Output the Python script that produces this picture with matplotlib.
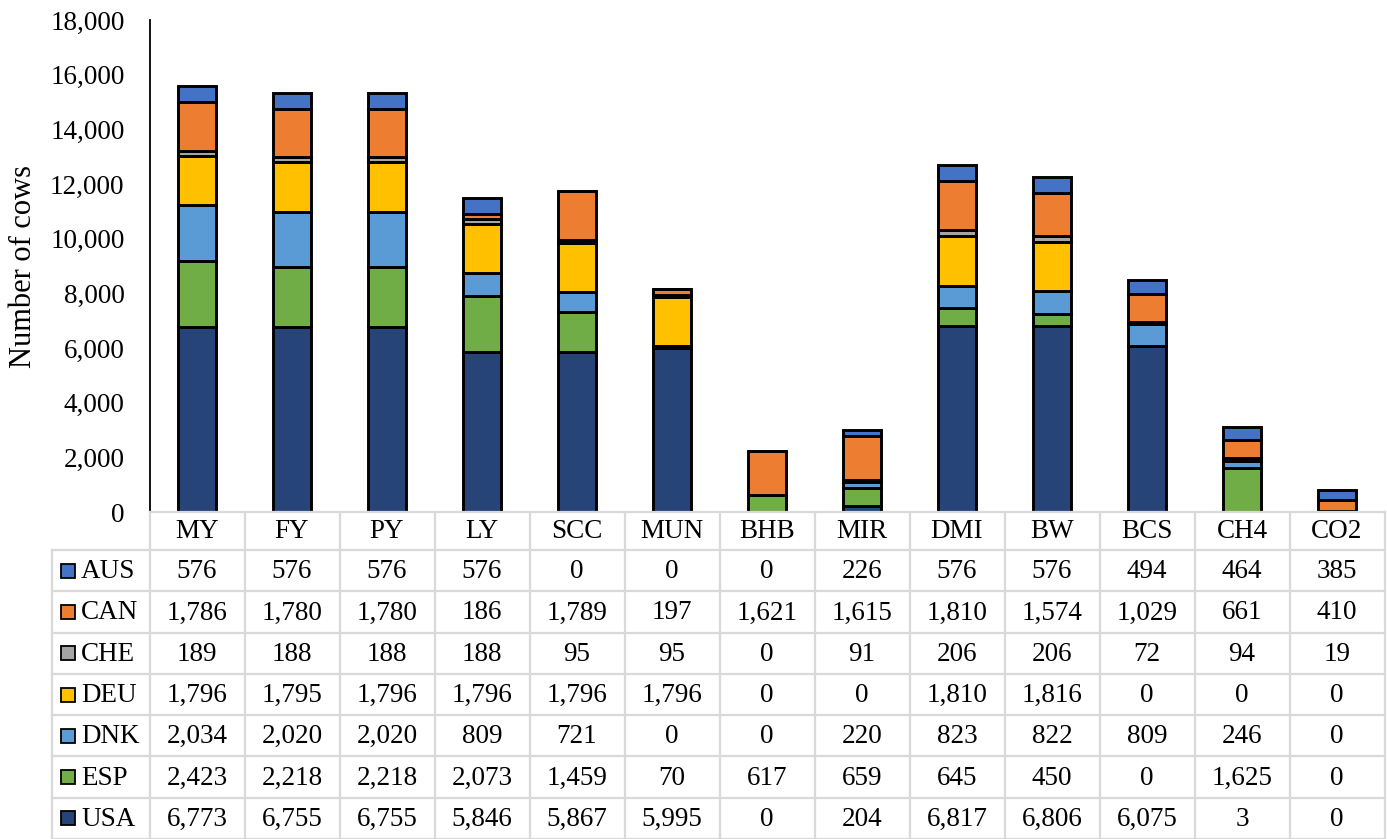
import matplotlib
matplotlib.use("Agg")
import matplotlib.pyplot as plt
from matplotlib.patches import Rectangle
from matplotlib.ticker import FuncFormatter

traits = ["MY", "FY", "PY", "LY", "SCC", "MUN", "BHB", "MIR", "DMI", "BW", "BCS", "CH4", "CO2"]
aus = [576, 576, 576, 576, 0, 0, 0, 226, 576, 576, 494, 464, 385]
can = [1786, 1780, 1780, 186, 1789, 197, 1621, 1615, 1810, 1574, 1029, 661, 410]
che = [189, 188, 188, 188, 95, 95, 0, 91, 206, 206, 72, 94, 19]
deu = [1796, 1795, 1796, 1796, 1796, 1796, 0, 0, 1810, 1816, 0, 0, 0]
dnk = [2034, 2020, 2020, 809, 721, 0, 0, 220, 823, 822, 809, 246, 0]
esp = [2423, 2218, 2218, 2073, 1459, 70, 617, 659, 645, 450, 0, 1625, 0]
usa = [6773, 6755, 6755, 5846, 5867, 5995, 0, 204, 6817, 6806, 6075, 3, 0]

# stacking order from the bottom up
stack = [("USA", usa, "#264478"), ("ESP", esp, "#70AD47"), ("DNK", dnk, "#5B9BD5"),
         ("DEU", deu, "#FFC000"), ("CHE", che, "#A5A5A5"), ("CAN", can, "#ED7D31"),
         ("AUS", aus, "#4472C4")]

plt.rcParams["font.family"] = ["Liberation Serif", "DejaVu Serif"]
FS = 19.5

W, H = 1387, 839
fig = plt.figure(figsize=(W / 100, H / 100), dpi=100)

left = 149.5 / W
right = 1384.5 / W
y_zero = 512
y_top = 20
ax = fig.add_axes([left, (H - y_zero) / H, right - left, (y_zero - y_top) / H])

x = list(range(len(traits)))
bottom = [0] * len(traits)
for name, vals, col in stack:
    ax.bar(x, vals, width=0.4, bottom=bottom, color=col, edgecolor="black",
           linewidth=2.1, zorder=3)
    bottom = [b + v for b, v in zip(bottom, vals)]

ax.set_xlim(-0.5, len(traits) - 0.5)
ax.set_ylim(0, 18000)
ax.set_yticks(range(0, 18001, 2000))
ax.yaxis.set_major_formatter(FuncFormatter(lambda v, p: f"{int(v):,}"))
ax.tick_params(axis="y", length=0, pad=18, labelsize=FS)
ax.set_xticks([])
for s in ["top", "right", "bottom"]:
    ax.spines[s].set_visible(False)
ax.spines["left"].set_linewidth(1.3)
ax.set_ylabel("Number of cows", fontsize=22)
ax.yaxis.set_label_coords((38 - 149.5) / 1235.0, 0.5)

# data table below the bars
tab_h = H - y_zero
tab = fig.add_axes([left, 0, right - left, tab_h / H])
tab.set_xlim(-0.5, len(traits) - 0.5)
header_h = 38
row_h = (tab_h - header_h) / 7.0
tab.set_ylim(tab_h, 0)  # pixel rows, top to bottom
tab.axis("off")

grid = "#d9d9d9"
lw = 1.6
label_left = -0.5 - (149.5 - 52) / 95.0

# horizontal lines
tab.plot([-0.5, len(traits) - 0.5], [0, 0], color=grid, lw=lw, clip_on=False)
for i in range(8):
    yy = header_h + i * row_h
    tab.plot([label_left, len(traits) - 0.5], [yy, yy], color=grid, lw=lw, clip_on=False)
# vertical lines
for j in range(len(traits) + 1):
    xx = -0.5 + j
    tab.plot([xx, xx], [0, tab_h], color=grid, lw=lw, clip_on=False)
tab.plot([label_left, label_left], [header_h, tab_h], color=grid, lw=lw, clip_on=False)

for j, t in enumerate(traits):
    tab.text(j, header_h / 2 + 1, t, ha="center", va="center", fontsize=FS)

for i, (name, vals, col) in enumerate(reversed(stack)):
    yc = header_h + (i + 0.5) * row_h
    sq = 14 / 95.0
    tab.add_patch(Rectangle((label_left + 9 / 95.0, yc - 7), sq, 14, facecolor=col,
                            edgecolor="black", lw=1.3, clip_on=False))
    tab.text(label_left + 29 / 95.0, yc + 1, name, ha="left", va="center", fontsize=FS)
    for j, v in enumerate(vals):
        tab.text(j, yc + 1, f"{v:,}", ha="center", va="center", fontsize=FS)

fig.savefig("out.png", dpi=100)
